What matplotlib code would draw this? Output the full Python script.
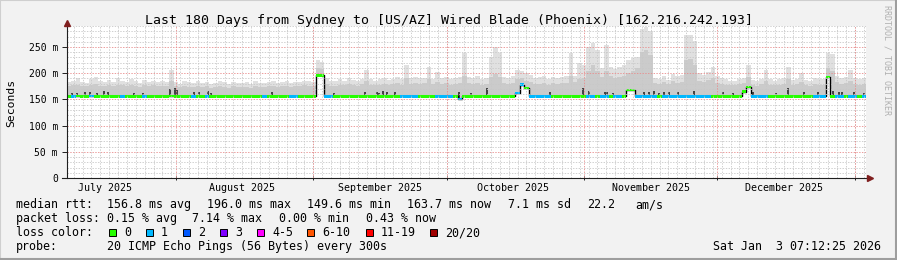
import datetime as dt

import matplotlib
matplotlib.use("Agg")
import matplotlib.pyplot as plt
import matplotlib.dates as mdates
from matplotlib.lines import Line2D
from matplotlib.patches import Rectangle

# ---- data (one value per day, 180 days ending Jan 3 2026) ----
start = dt.datetime(2025, 7, 7, 12, 0)
n_days = 180

# upper edge of the light smoke (ms)
smoke_hi = [
    183, 186, 190, 184, 182, 188, 193, 185, 183, 187,
    184, 190, 186, 183, 188, 185, 182, 187, 184, 186,
    183, 185, 184, 206, 184, 180, 185, 183, 182, 186,
    181, 184, 180, 182, 185, 183, 180, 184, 182, 181,
    183, 180, 185, 182, 181, 184, 186, 182, 183, 185,
    182, 184, 183, 186, 185, 184, 225, 222, 190, 186,
    185, 188, 186, 190, 187, 185, 189, 206, 188, 186,
    188, 190, 187, 189, 192, 188, 216, 190, 192, 190,
    191, 212, 189, 202, 190, 193, 188, 190, 192, 238,
    192, 190, 194, 188, 190, 231, 250, 238, 193, 190,
    195, 206, 205, 200, 196, 190, 192, 195, 189, 193,
    191, 192, 194, 238, 195, 219, 215, 250, 257, 245,
    210, 254, 212, 208, 212, 215, 225, 229, 231, 285,
    288, 280, 190, 188, 195, 187, 198, 194, 196, 273,
    273, 262, 200, 196, 202, 212, 194, 190, 188, 186,
    186, 188, 190, 216, 187, 185, 189, 206, 188, 186,
    188, 190, 212, 187, 189, 200, 187, 186, 190, 188,
    188, 238, 236, 195, 190, 192, 206, 190, 188, 190,
]

# upper edge of the denser (darker) smoke (ms)
smoke_mid = [
    176, 178, 177, 175, 176, 178, 179, 176, 175, 177,
    176, 178, 177, 175, 177, 176, 174, 177, 176, 177,
    175, 176, 175, 185, 176, 173, 175, 174, 174, 176,
    173, 175, 172, 174, 176, 174, 172, 175, 174, 173,
    174, 172, 176, 174, 173, 175, 176, 174, 175, 176,
    174, 175, 175, 177, 176, 176, 210, 208, 180, 176,
    176, 178, 177, 180, 178, 176, 179, 186, 178, 177,
    178, 180, 178, 179, 181, 178, 190, 180, 181, 180,
    181, 188, 179, 184, 180, 182, 178, 180, 181, 195,
    181, 180, 182, 178, 180, 192, 198, 192, 182, 180,
    182, 188, 190, 186, 183, 179, 180, 182, 178, 181,
    180, 181, 182, 195, 183, 188, 190, 205, 215, 205,
    192, 205, 194, 190, 193, 195, 200, 205, 210, 240,
    245, 235, 182, 180, 184, 179, 185, 182, 184, 225,
    228, 215, 186, 183, 187, 190, 182, 180, 178, 177,
    177, 179, 182, 192, 178, 176, 179, 186, 178, 177,
    178, 180, 188, 177, 179, 184, 177, 176, 180, 178,
    178, 210, 205, 183, 179, 181, 186, 179, 178, 180,
]

# median rtt (ms)
median_rtt = [
    156, 156, 156.5, 156, 156, 156.5, 156, 156, 156, 156,
    156, 156, 156, 156, 156, 156, 156, 156, 156, 156,
    156, 156, 156, 156.5, 156, 156, 156, 156, 156, 156,
    156, 156, 156, 156, 156, 156, 156, 156, 156, 156,
    156, 156, 156, 156, 156, 156, 156, 156, 156, 156,
    156, 156, 156, 156, 156, 156, 196, 196, 156, 156,
    156, 156, 156, 156, 156, 156, 156, 156, 156, 156,
    156, 156, 156, 156, 156, 156, 156, 156, 156, 156,
    156, 156, 156, 156, 156, 156, 156, 156, 150.5, 156,
    156, 156, 156, 156, 156, 156, 156, 156, 156, 156,
    156, 162, 178, 172, 156, 156, 156, 156, 156, 156,
    156, 156, 156, 156, 156, 156, 156, 156, 156, 156,
    156, 156, 156, 156, 156, 156, 168, 168, 156, 156,
    156, 156, 156, 156, 156, 156, 156, 156, 156, 156,
    156, 156, 156, 156, 156, 156, 156, 156, 156, 156,
    156, 156, 165, 174, 156, 156, 156, 156, 156, 156,
    156, 156, 156, 156, 156, 156, 156, 156, 156, 156,
    156, 193, 156, 156, 156, 156, 156, 156, 156, 156,
]

# packet loss bucket per day (index into loss_colors)
loss_idx = [
    0, 1, 0, 0, 0, 1, 0, 0, 0, 0,
    0, 0, 1, 0, 0, 0, 0, 1, 0, 0,
    0, 0, 0, 0, 0, 0, 0, 0, 1, 0,
    0, 1, 0, 0, 0, 0, 0, 0, 0, 0,
    0, 0, 0, 0, 1, 0, 0, 0, 0, 0,
    1, 1, 0, 0, 0, 0, 0, 0, 1, 1,
    0, 0, 0, 0, 0, 0, 0, 0, 0, 0,
    0, 0, 0, 0, 0, 1, 1, 1, 1, 0,
    0, 0, 0, 1, 1, 1, 1, 0, 1, 0,
    0, 0, 0, 0, 0, 0, 0, 0, 0, 0,
    0, 1, 1, 0, 1, 1, 1, 1, 1, 0,
    0, 0, 0, 0, 0, 0, 0, 1, 1, 0,
    1, 1, 0, 1, 1, 0, 0, 0, 1, 1,
    1, 1, 1, 0, 1, 1, 1, 1, 1, 1,
    1, 1, 1, 1, 1, 0, 0, 0, 0, 0,
    0, 0, 0, 0, 1, 1, 1, 1, 0, 0,
    0, 0, 0, 0, 0, 0, 0, 0, 1, 1,
    1, 0, 0, 1, 1, 0, 1, 1, 0, 1,
]

# short dark smoke spikes just above the median (day offset, top in ms)
spike_day = [1.1, 2.3, 4.1, 5.2, 6.8, 8.3, 9.2, 15.1, 17.1, 23.2, 24.3, 24.8,
             28.6, 29.7, 31.7, 32.4, 46.1, 60.1, 67.1, 69.8, 70.4, 71.3, 72.2,
             73.8, 88.2, 91.1, 94.7, 108.9, 116.3, 117.7, 121.1, 121.7, 122.9,
             130.1, 131.2, 132.3, 133.4, 134.6, 135.7, 137.7, 141.3, 147.8,
             150.1, 154.6, 159.8, 162.5, 166.1, 169.2, 172.6, 173.9, 174.6,
             177.3, 179.6]
spike_top = [163, 162, 165, 164, 163, 166, 164, 162, 163, 170, 172, 168,
             164, 165, 166, 163, 164, 163, 164, 165, 163, 166, 165,
             164, 164, 163, 172, 164, 172, 166, 164, 165, 163,
             165, 164, 166, 163, 165, 164, 164, 166, 164,
             163, 164, 163, 172, 165, 164, 166, 164, 165,
             164, 163]

loss_colors = ["#26ff00", "#00b8ff", "#0059ff", "#7e00ff",
               "#ff00ff", "#ff5500", "#ff0000", "#a00000"]
loss_labels = ["0", "1", "2", "3", "4-5", "6-10", "11-19", "20/20"]
y_ticks = [0, 50, 100, 150, 200, 250]

title = "Last 180 Days from Sydney to [US/AZ] Wired Blade (Phoenix) [162.216.242.193]"

# ---- layout (pixel geometry of the rrdtool canvas) ----
W, H = 897, 260
X0, X1, Y0, YT = 67, 866, 178, 26
FONT = "DejaVu Sans Mono"
plt.rcParams["font.family"] = FONT
plt.rcParams["lines.scale_dashes"] = False


def fx(x):
    return x / W


def fy(y):
    return 1 - y / H


fig = plt.figure(figsize=(W / 100, H / 100), dpi=100)
fig.patch.set_facecolor("#f2f2f2")
ax = fig.add_axes([fx(X0), fy(Y0), (X1 - X0) / W, (Y0 - YT) / H])
ax.set_facecolor("white")

t0 = mdates.date2num(start)
t1 = t0 + n_days
xs = [t0 + i for i in range(n_days)]
ax.set_xlim(t0, t1)
ax.set_ylim(0, (Y0 - YT) / 0.524)

# smoke
ax.bar(xs, [h - m for h, m in zip(smoke_hi, median_rtt)], bottom=median_rtt,
       width=1.0, align="edge", color="#e0e0e0", linewidth=0, zorder=1)
ax.bar(xs, [h - m for h, m in zip(smoke_mid, median_rtt)], bottom=median_rtt,
       width=1.0, align="edge", color="#cbcbcb", linewidth=0, zorder=1.1)

# dark spikes
spike_x = [t0 + d for d in spike_day]
spike_base = [median_rtt[min(int(d), n_days - 1)] for d in spike_day]
ax.vlines(spike_x, spike_base, spike_top, color="#1c1c1c", linewidth=1.1, zorder=1.5)

# median step (black edges) + loss coloured band
ax.step(xs + [t1], median_rtt + [median_rtt[-1]], where="post",
        color="black", linewidth=1.0, zorder=1.6)
ax.bar(xs, 5.0, bottom=[m - 2.5 for m in median_rtt], width=1.0, align="edge",
       color=[loss_colors[i] for i in loss_idx], linewidth=0, zorder=1.7)

# grid (drawn over the data like rrdtool)
grid_kw = dict(linewidth=0.6, linestyle=(0, (1.0, 1.0)), zorder=3)
for v in range(10, int(ax.get_ylim()[1]) + 1, 10):
    if v % 50:
        ax.axhline(v, color="#c8c8c8", **grid_kw)
for v in y_ticks[1:]:
    ax.axhline(v, color="#e98c8c", **grid_kw)

month_starts = [dt.datetime(2025, m, 1) for m in range(8, 13)] + [dt.datetime(2026, 1, 1)]
minor_x = [mdates.date2num(dt.datetime(2025, 7, 1)) + 2 * k for k in range(100)]
for v in minor_x:
    if t0 < v < t1:
        ax.axvline(v, color="#c8c8c8", **grid_kw)
for m in month_starts:
    ax.axvline(mdates.date2num(m), color="#e98c8c", **grid_kw)

# axes / ticks
for s in ax.spines.values():
    s.set_visible(False)
ax.set_yticks(y_ticks)
ax.set_yticklabels(["0" if v == 0 else f"{v} m" for v in y_ticks], fontsize=7)
ax.tick_params(axis="y", length=3.6, width=0.7, pad=2.9, color="#1f1f1f")
ax.set_xticks([mdates.date2num(m) for m in month_starts])
ax.set_xticklabels([])
ax.tick_params(axis="x", length=3.0, width=0.7, direction="inout", color="#1f1f1f")

fig.add_artist(Line2D([fx(X0), fx(X0)], [fy(Y0), fy(YT - 2)], color="#1f1f1f", lw=0.8))
fig.add_artist(Line2D([fx(X0 - 5), fx(X1 + 3)], [fy(Y0), fy(Y0)], color="#1f1f1f", lw=0.8))
fig.add_artist(Line2D([fx(X0)], [fy(YT - 3)], marker="^", markersize=4.5,
                      color="#801f1f", linestyle="none"))
fig.add_artist(Line2D([fx(X1 + 4)], [fy(Y0)], marker=">", markersize=4.5,
                      color="#801f1f", linestyle="none"))

# month labels centred mid-month
month_names = ["July 2025", "August 2025", "September 2025", "October 2025",
               "November 2025", "December 2025"]
month_mid = [dt.datetime(2025, m, 16) for m in range(7, 13)]
for name, mid in zip(month_names, month_mid):
    ax.text(mdates.date2num(mid), -0.085, name, transform=ax.get_xaxis_transform(),
            ha="center", va="baseline", fontsize=7.2)

# title, axis label, watermark
fig.text(0.5, fy(24), title, ha="center", va="baseline", fontsize=9.5)
fig.text(fx(11), fy(103), "Seconds", rotation=90, ha="center", va="center", fontsize=8.2)
fig.text(fx(887), fy(60), "RRDTOOL / TOBI OETIKER", rotation=270, ha="center",
         va="center", fontsize=6, color="#b0b0b0")

# legend block
LF = 8.4
rows = [
    (208, [("median rtt:", 16), ("156.8 ms avg", 107), ("196.0 ms max", 207),
           ("149.6 ms min", 307), ("163.7 ms now", 407), ("7.1 ms sd", 508),
           ("22.2", 587), ("am/s", 635)]),
    (222, [("packet loss:", 16), ("0.15 % avg", 107), ("7.14 % max", 192),
           ("0.00 % min", 279), ("0.43 % now", 366)]),
    (236, [("loss color:", 16)]),
    (250, [("probe:", 16), ("20 ICMP Echo Pings (56 Bytes) every 300s", 107)]),
]
for base, items in rows:
    for txt, x in items:
        fig.text(fx(x), fy(base), txt, ha="left", va="baseline", fontsize=LF)

box_x = [109, 146, 183, 220, 257, 307, 366, 430]
for col, lab, x in zip(loss_colors, loss_labels, box_x):
    fig.add_artist(Rectangle((fx(x), fy(235.5)), 7 / W, 7 / H, transform=fig.transFigure,
                             facecolor=col, edgecolor="black", linewidth=0.7))
    fig.text(fx(x + 15), fy(236), lab, ha="left", va="baseline", fontsize=LF)

fig.text(fx(881), fy(250), "Sat Jan  3 07:12:25 2026", ha="right", va="baseline", fontsize=LF)

# 3D frame
fig.add_artist(Rectangle((0, 0), 1, 1, transform=fig.transFigure, fill=False,
                         edgecolor="#cfcfcf", linewidth=1.5))
fig.add_artist(Line2D([fx(W - 1), fx(W - 1)], [0, 1], color="#9e9e9e", lw=1.5))
fig.add_artist(Line2D([0, 1], [fy(H - 1), fy(H - 1)], color="#9e9e9e", lw=1.5))

fig.savefig("out.png", dpi=100, facecolor=fig.get_facecolor())
